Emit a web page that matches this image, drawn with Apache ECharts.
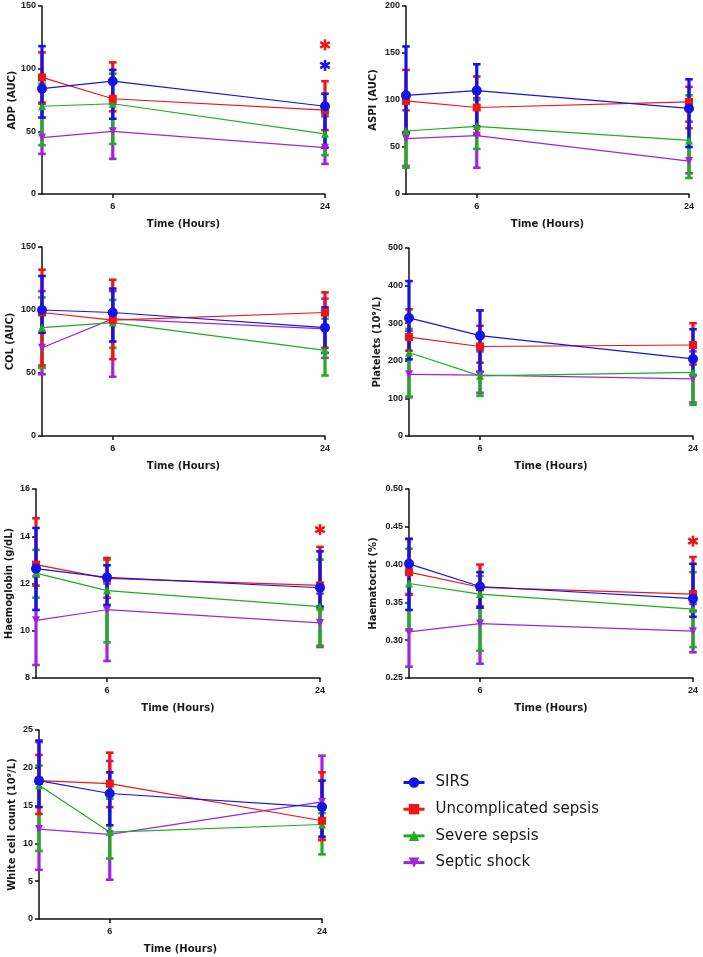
<!DOCTYPE html>
<html>
<head>
<meta charset="utf-8">
<script src="https://cdn.jsdelivr.net/npm/echarts@6/dist/echarts.min.js"></script>
<style>
html,body{margin:0;padding:0;background:#fff;}
#main{width:703px;height:957px;}
</style>
</head>
<body>
<div id="main"></div>
<script>
// ---- data (groups order: SIRS, Uncomplicated sepsis, Severe sepsis, Septic shock) ----
const hours = [0, 6, 24];
const groups = ['SIRS', 'Uncomplicated sepsis', 'Severe sepsis', 'Septic shock'];

const adpMean = [[84, 90, 70], [93, 76, 67], [70, 72, 48], [45, 50, 37]];
const adpLow  = [[61, 60, 37], [73, 66, 51], [39, 40, 31], [32, 28, 24]];
const adpHigh = [[118, 99, 80], [113, 105, 90], [88, 96, 64], [72, 72, 62]];
const adpStarValues = [119, 102.6];
const adpStarGroups = [1, 0];

const aspiMean = [[105, 110, 91], [99, 92, 98], [67, 72, 57], [59, 62, 35]];
const aspiLow  = [[65, 72, 50], [66, 63, 70], [28, 48, 17], [30, 28, 22]];
const aspiHigh = [[157, 138, 122], [132, 125, 114], [100, 100, 105], [89, 102, 77]];

const colMean = [[100, 98, 86], [98, 92, 98], [86, 90, 68], [70, 93, 85]];
const colLow  = [[82, 75, 66], [56, 61, 70], [54, 70, 48], [49, 47, 62]];
const colHigh = [[127, 117, 102], [132, 124, 114], [110, 108, 93], [115, 115, 109]];

const pltMean = [[314, 267, 205], [263, 238, 242], [222, 160, 169], [164, 162, 152]];
const pltLow  = [[204, 171, 162], [227, 195, 190], [105, 107, 83], [103, 115, 89]];
const pltHigh = [[412, 334, 284], [337, 293, 300], [285, 229, 240], [280, 225, 225]];

const hbMean = [[12.63, 12.26, 11.82], [12.8, 12.22, 11.92], [12.44, 11.7, 11.02], [10.44, 10.89, 10.33]];
const hbLow  = [[10.88, 11.09, 11.03], [11.91, 11.4, 10.96], [11.4, 9.51, 9.37], [8.55, 8.72, 9.31]];
const hbHigh = [[14.35, 12.77, 13.36], [14.76, 13.08, 13.55], [13.42, 13.0, 13.01], [12.3, 12.0, 11.57]];
const hbStarValues = [14.28];
const hbStarGroups = [1];

const hctMean = [[0.401, 0.371, 0.355], [0.390, 0.370, 0.361], [0.375, 0.361, 0.341], [0.311, 0.322, 0.312]];
const hctLow  = [[0.340, 0.343, 0.331], [0.361, 0.345, 0.339], [0.313, 0.286, 0.291], [0.265, 0.269, 0.284]];
const hctHigh = [[0.434, 0.390, 0.401], [0.434, 0.400, 0.410], [0.421, 0.385, 0.390], [0.360, 0.370, 0.348]];
const hctStarValues = [0.431];
const hctStarGroups = [1];

const wbcMean = [[18.3, 16.6, 14.8], [18.3, 17.9, 13.0], [17.7, 11.5, 12.5], [11.9, 11.2, 15.5]];
const wbcLow  = [[14.8, 12.4, 10.9], [13.9, 14.8, 10.45], [9.0, 8.0, 8.55], [6.5, 5.2, 10.5]];
const wbcHigh = [[23.6, 19.4, 18.3], [21.7, 22.0, 19.4], [20.3, 15.9, 14.0], [23.4, 20.9, 21.6]];

const xTicks = [6, 24];

// ---- styling / layout ----
const colors = ['#1414E6', '#F01414', '#1EAE1E', '#A024DC'];
const symbols = ['circle', 'rect', 'triangle', 'triangle'];
const symbolSizes = [10, 8, 8, 8];
const symbolRotates = [0, 0, 0, 180];

const panels = [
  {name: 'ADP (AUC)', mean: adpMean, low: adpLow, high: adpHigh, min: 0, max: 150, interval: 50,
   grid: {left: 42, top: 6, width: 283, height: 188}, nameGap: 25, stars: adpStarValues, starGroups: adpStarGroups},
  {name: 'ASPI (AUC)', mean: aspiMean, low: aspiLow, high: aspiHigh, min: 0, max: 200, interval: 50,
   grid: {left: 406, top: 6, width: 283, height: 188}, nameGap: 28},
  {name: 'COL (AUC)', mean: colMean, low: colLow, high: colHigh, min: 0, max: 150, interval: 50,
   grid: {left: 42, top: 247, width: 283, height: 189}, nameGap: 27},
  {name: 'Platelets (10⁹/L)', mean: pltMean, low: pltLow, high: pltHigh, min: 0, max: 500, interval: 100,
   grid: {left: 409, top: 248, width: 284, height: 188}, nameGap: 27},
  {name: 'Haemoglobin (g/dL)', mean: hbMean, low: hbLow, high: hbHigh, min: 8, max: 16, interval: 2,
   grid: {left: 36, top: 489, width: 284, height: 189}, nameGap: 22, stars: hbStarValues, starGroups: hbStarGroups},
  {name: 'Haematocrit (%)', mean: hctMean, low: hctLow, high: hctHigh, min: 0.25, max: 0.50, interval: 0.05,
   grid: {left: 409, top: 489, width: 284, height: 189}, nameGap: 31, fmt: v => v.toFixed(2),
   stars: hctStarValues, starGroups: hctStarGroups},
  {name: 'White cell count (10⁹/L)', mean: wbcMean, low: wbcLow, high: wbcHigh, min: 0, max: 25, interval: 5,
   grid: {left: 39, top: 730, width: 283, height: 189}, nameGap: 22}
];

function makeErr(color) {
  return function (params, api) {
    const x = api.value(0), lo = api.value(1), hi = api.value(2);
    const p1 = api.coord([x, lo]), p2 = api.coord([x, hi]);
    const cw = 3.8;
    return {
      type: 'group',
      children: [
        {type: 'line', shape: {x1: p1[0], y1: p1[1], x2: p2[0], y2: p2[1]}, style: {stroke: color, lineWidth: 3.2}},
        {type: 'line', shape: {x1: p1[0] - cw, y1: p1[1], x2: p1[0] + cw, y2: p1[1]}, style: {stroke: color, lineWidth: 2.6}},
        {type: 'line', shape: {x1: p2[0] - cw, y1: p2[1], x2: p2[0] + cw, y2: p2[1]}, style: {stroke: color, lineWidth: 2.6}}
      ]
    };
  };
}

function makeStar(color) {
  return function (params, api) {
    const c = api.coord([api.value(0), api.value(1)]);
    const r = 5.5;
    const children = [];
    [90, 30, 150].forEach(function (deg) {
      const a = deg * Math.PI / 180;
      children.push({type: 'line',
        shape: {x1: c[0] - r * Math.cos(a), y1: c[1] - r * Math.sin(a), x2: c[0] + r * Math.cos(a), y2: c[1] + r * Math.sin(a)},
        style: {stroke: color, lineWidth: 2.5}});
    });
    return {type: 'group', children: children};
  };
}

const grids = [], xAxes = [], yAxes = [], series = [];
const tickFont = {fontFamily: 'Liberation Sans, Arial, sans-serif', fontWeight: 'bold', fontSize: 9, color: '#1a1a1a'};
const nameFont = {fontFamily: 'DejaVu Sans, sans-serif', fontWeight: 'bold', fontSize: 10, color: '#1a1a1a'};

panels.forEach(function (p, i) {
  grids.push(Object.assign({containLabel: false}, p.grid));
  xAxes.push({
    type: 'value', gridIndex: i, min: 0, max: 24,
    name: 'Time (Hours)', nameLocation: 'middle', nameGap: 25, nameTextStyle: nameFont,
    axisLine: {show: true, lineStyle: {color: '#111', width: 1.5}},
    axisTick: {show: true, length: 4, lineStyle: {color: '#111', width: 1.5}, customValues: xTicks},
    axisLabel: Object.assign({margin: 8, customValues: xTicks}, tickFont),
    splitLine: {show: false}
  });
  yAxes.push({
    type: 'value', gridIndex: i, min: p.min, max: p.max, interval: p.interval,
    name: p.name, nameLocation: 'middle', nameGap: p.nameGap, nameTextStyle: nameFont,
    axisLine: {show: true, lineStyle: {color: '#111', width: 1.5}},
    axisTick: {show: true, length: 4, lineStyle: {color: '#111', width: 1.5}},
    axisLabel: Object.assign({margin: 6, formatter: p.fmt ? p.fmt : (v => String(v))}, tickFont),
    splitLine: {show: false}
  });
  [3, 2, 1, 0].forEach(function (g) {
    series.push({
      type: 'custom', name: 'err' + i + '_' + g, xAxisIndex: i, yAxisIndex: i,
      renderItem: makeErr(colors[g]), encode: {x: 0, y: [1, 2]},
      data: hours.map((h, k) => [h, p.low[g][k], p.high[g][k]]),
      silent: true
    });
    series.push({
      type: 'line', name: groups[g], xAxisIndex: i, yAxisIndex: i,
      data: hours.map((h, k) => [h, p.mean[g][k]]),
      symbol: symbols[g], symbolSize: symbolSizes[g], symbolRotate: symbolRotates[g],
      showAllSymbol: true,
      lineStyle: {color: colors[g], width: 1.2},
      itemStyle: {color: colors[g]},
      silent: true
    });
  });
  if (p.stars) {
    p.stars.forEach(function (v, s) {
      series.push({
        type: 'custom', name: 'star' + i + '_' + s, xAxisIndex: i, yAxisIndex: i,
        renderItem: makeStar(colors[p.starGroups[s]]), encode: {x: 0, y: 1},
        data: [[24, v]], silent: true
      });
    });
  }
});

const chart = echarts.init(document.getElementById('main'), null, {renderer: 'canvas'});
chart.setOption({
  animation: false,
  backgroundColor: '#fff',
  grid: grids,
  xAxis: xAxes,
  yAxis: yAxes,
  legend: {
    data: groups, orient: 'vertical', left: 397, top: 770,
    itemWidth: 21, itemHeight: 13, itemGap: 11.7,
    selectedMode: false,
    lineStyle: {width: 3},
    textStyle: {fontFamily: 'DejaVu Sans, sans-serif', fontSize: 15, color: '#1a1a1a', padding: [0, 0, 0, 6]}
  },
  series: series
});
</script>
</body>
</html>
